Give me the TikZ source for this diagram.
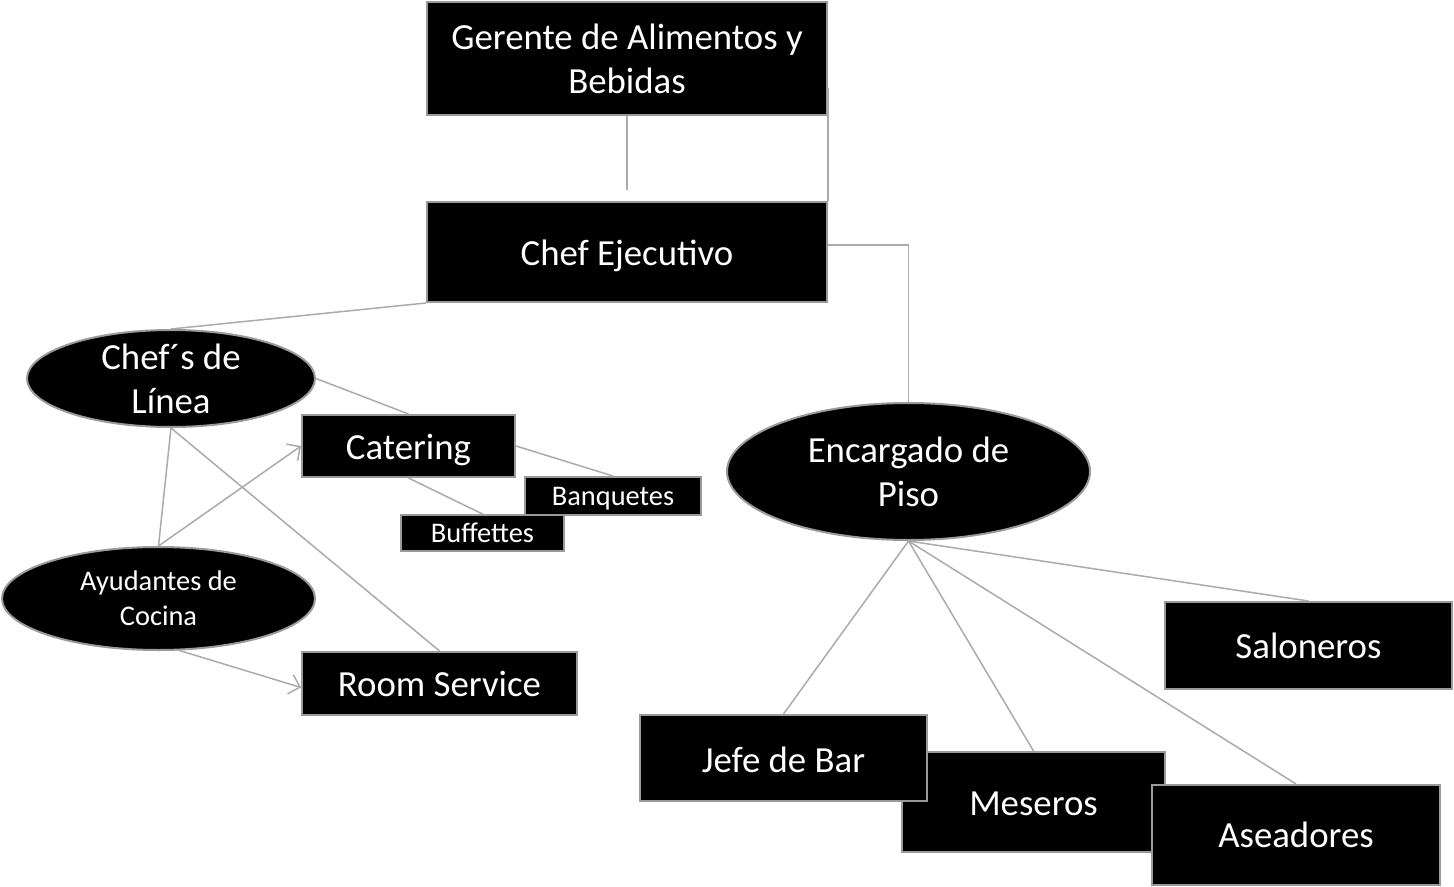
\documentclass[tikz,border=0pt]{standalone}
\usepackage{fontspec}
\setmainfont{Carlito}
\usetikzlibrary{shapes.geometric,arrows.meta}
\definecolor{boxgray}{HTML}{9A9A9A}
\definecolor{linegray}{HTML}{ABABAB}
\newcommand\fbig{\fontsize{18.4}{22}\selectfont}
\newcommand\fsmall{\fontsize{14.2}{17.5}\selectfont}
\newcommand\lowr[2]{\raisebox{-#1}[\height][\depth]{#2}}
\begin{document}
\begin{tikzpicture}[x=0.5pt,y=-0.5pt,
  box/.style={draw=boxgray, line width=1pt, fill=black, text=white, inner sep=0pt, align=center, font=\fbig},
  sbox/.style={box, font=\fsmall},
  ellbox/.style={ellipse, draw=boxgray, line width=1pt, fill=black, inner sep=0pt},
  lbl/.style={text=white, align=center, font=\fbig, inner sep=0pt},
  slbl/.style={lbl, font=\fsmall},
  conn/.style={draw=linegray, line width=0.75pt},
  arr/.style={conn, -{Straight Barb[length=5pt,width=10pt]}}
]
\useasboundingbox[fill=white] (0,0) rectangle (1454,887);

% nodes
\node[box, minimum width=200pt, minimum height=56.5pt] (ger) at (627,58.5) {Gerente de Alimentos y\\Bebidas};
\node[box, minimum width=200pt, minimum height=50pt] (chef) at (627,252) {\lowr{2pt}{Chef Ejecutivo}};
\node[ellbox, minimum width=144pt, minimum height=48.5pt, label={[lbl]center:{Chef´s de\\Línea}}] (chefs) at (171,378.5) {};
\node[box, minimum width=106.5pt, minimum height=31pt] (cat) at (408.5,446) {\lowr{2pt}{Catering}};
\node[sbox, minimum width=88pt, minimum height=19pt] (banq) at (613,496) {\lowr{1.2pt}{Banquetes}};
\node[sbox, minimum width=81.5pt, minimum height=18pt] (buff) at (482.5,533) {Buffettes};
\node[ellbox, minimum width=156.5pt, minimum height=51.5pt, label={[slbl]center:{Ayudantes de\\Cocina}}] (ayud) at (158.5,598.5) {};
\node[box, minimum width=137.5pt, minimum height=31.5pt] (room) at (439.5,683.5) {Room Service};
\node[ellbox, minimum width=181.5pt, minimum height=68.5pt, label={[lbl]center:{Encargado de\\Piso}}] (enc) at (908.5,471.5) {};
\node[box, minimum width=143.5pt, minimum height=43.5pt] (salon) at (1308.5,645.5) {Saloneros};
\node[box, minimum width=131.5pt, minimum height=50pt] (mes) at (1033.5,802) {\lowr{1pt}{Meseros}};
\node[box, minimum width=143.5pt, minimum height=43pt] (jefe) at (783.5,758) {\lowr{1pt}{Jefe de Bar}};
\node[box, minimum width=144pt, minimum height=50pt] (ase) at (1296,835) {Aseadores};

\coordinate (gapend) at (627,190);

% connectors
\draw[conn] (ger.south) -- (gapend);
\draw[conn] ([yshift=-15pt]ger.east) -- (chef.north east);
\draw[conn] ([yshift=3.5pt]chef.east) -| (enc.north);
\draw[conn] (chef.south west) -- (chefs.north);
\draw[conn] (chefs.east) -- (cat.north);
\draw[conn] (chefs.south) -- (room.north);
\draw[conn] (ayud.north) -- (chefs.south);
\draw[arr] (ayud.north) -- (cat.west);
\draw[arr] (ayud.-68) -- ([yshift=-2pt]room.west);
\draw[conn] (cat.east) -- (banq.north);
\draw[conn] (cat.south) -- (buff.north);
\draw[conn] (enc.south) -- (salon.north);
\draw[conn] (enc.south) -- (jefe.north);
\draw[conn] (enc.south) -- (mes.north);
\draw[conn] (enc.south) -- (ase.north);
\end{tikzpicture}
\end{document}
